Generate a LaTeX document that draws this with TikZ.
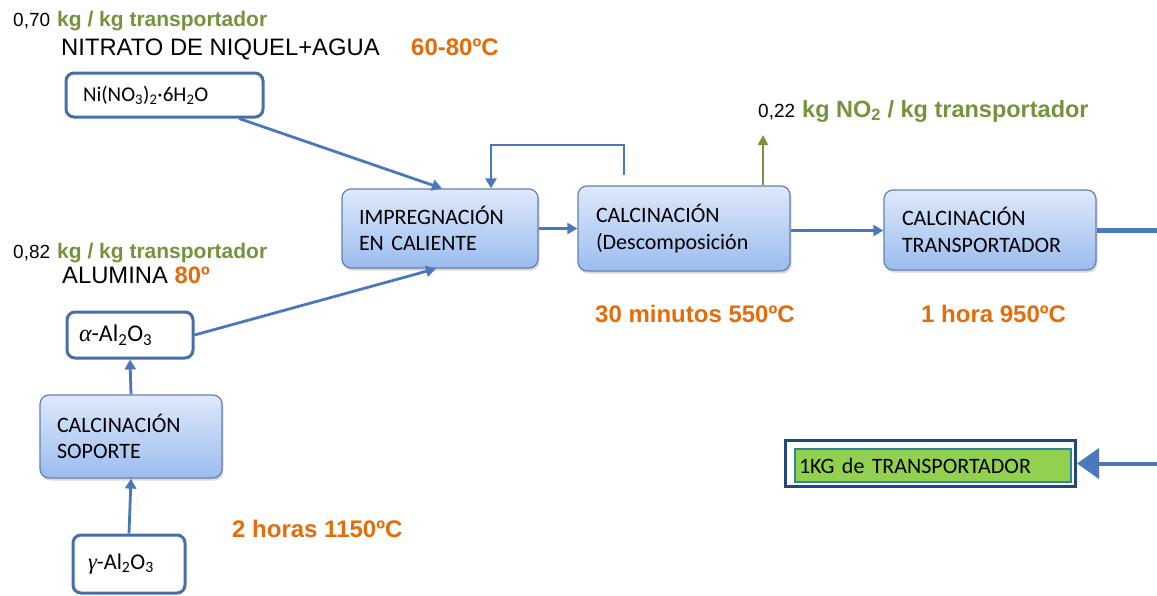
\documentclass[tikz,border=0pt]{standalone}
\usepackage{fontspec}
\setmainfont{Liberation Sans}
\newfontfamily\calfont{Carlito}
\newfontfamily\symfont{Liberation Serif}
\usetikzlibrary{arrows.meta,shadows}
\definecolor{arrowblue}{RGB}{74,120,188}
\definecolor{boxborder}{RGB}{100,128,178}
\definecolor{whiteborder}{RGB}{70,110,170}
\definecolor{lgreen}{RGB}{118,146,60}
\definecolor{orng}{RGB}{228,108,10}
\definecolor{gradtop}{RGB}{222,233,251}
\definecolor{gradbot}{RGB}{155,188,238}
\definecolor{kgfill}{RGB}{146,208,80}
\definecolor{kgouter}{RGB}{31,73,125}
\definecolor{kginner}{RGB}{49,133,155}
\tikzset{
  procbox/.style={draw=boxborder, line width=1.2pt, rounded corners=9pt,
    top color=gradtop, bottom color=gradbot,
    drop shadow={shadow xshift=1.5pt, shadow yshift=-2.5pt, opacity=0.3},
    align=left, inner xsep=17pt, inner ysep=0pt,
    font=\calfont\fontsize{22}{26.5}\selectfont},
  inbox/.style={draw=whiteborder, line width=3pt, rounded corners=8pt,
    fill=white, align=left, inner ysep=0pt,
    font=\calfont\fontsize{21}{24}\selectfont},
  arr/.style={draw=arrowblue, line width=2.8pt, -{Triangle[length=10pt,width=11pt]}},
  garr/.style={draw=lgreen, line width=2.8pt, -{Triangle[length=10pt,width=10pt]}},
  thickline/.style={draw=arrowblue, line width=5pt},
  bigarr/.style={draw=arrowblue, line width=4pt, -{Triangle[length=22pt,width=30pt]}},
  lbl/.style={anchor=base west, inner sep=0pt},
}
\newcommand\grn[2][21]{\textcolor{lgreen}{\bfseries\fontsize{#1}{25}\selectfont #2}}
\newcommand\org[1]{\textcolor{orng}{\bfseries #1}}
\newcommand\num[1]{{\fontsize{19}{22}\selectfont #1}\hspace{7pt}}
\newcommand\galpha{{\symfont\itshape α}}
\newcommand\ggamma{{\symfont\itshape γ}}
\begin{document}
\begin{tikzpicture}[x=1pt,y=-1pt]
\useasboundingbox (0,0) rectangle (1157,595);

% labels
\node[lbl] (l070) at (13,26) {\num{0,70}\grn{kg / kg transportador}};
\node[lbl, font=\fontsize{23.8}{28}\selectfont] (lnit) at (61,55) {NITRATO DE NIQUEL+AGUA};
\node[lbl, font=\fontsize{24}{28}\selectfont] (ltemp1) at (411,55) {\org{60-80ºC}};
\node[lbl] (l082) at (13,258) {\num{0,82}\grn{kg / kg transportador}};
\node[lbl, font=\fontsize{23.8}{28}\selectfont] (lalu) at (62,283) {ALUMINA \org{80º}};
\node[lbl] (l022) at (758,117) {\num{0,22}\grn[23.5]{kg NO\textsubscript{2} / kg transportador}};
\node[lbl, font=\fontsize{24}{28}\selectfont] (lt2) at (595,322) {\org{30 minutos 550ºC}};
\node[lbl, font=\fontsize{24}{28}\selectfont] (lt3) at (921,322) {\org{1 hora 950ºC}};
\node[lbl, font=\fontsize{24}{28}\selectfont] (lt1) at (232,537) {\org{2 horas 1150ºC}};

% white boxes
\node[inbox, minimum width=197pt, minimum height=44pt, text width=163pt, inner xsep=17pt] (ni) at (164.5,95)
  {Ni(NO\textsubscript{3})\textsubscript{2}·6H\textsubscript{2}O};
\node[inbox, minimum width=126pt, minimum height=46pt, text width=102pt, inner xsep=12pt,
  font=\calfont\fontsize{24}{26}\selectfont] (alp) at (130,335)
  {\galpha-Al\textsubscript{2}O\textsubscript{3}};
\node[inbox, minimum width=112pt, minimum height=58pt, text width=82pt, inner xsep=15pt,
  font=\calfont\fontsize{22.5}{26}\selectfont] (gam) at (129,564)
  {\ggamma-Al\textsubscript{2}O\textsubscript{3}};

% process boxes
\node[procbox, minimum width=196pt, minimum height=79pt, text width=162pt] (imp) at (440,228.5)
  {IMPREGNACIÓN\\EN CALIENTE};
\node[procbox, minimum width=212pt, minimum height=85pt, text width=176pt, inner xsep=18pt] (calc) at (684,228.5)
  {CALCINACIÓN\\(Descomposición};
\node[procbox, minimum width=212pt, minimum height=80pt, text width=176pt, inner xsep=18pt] (trans) at (990,230)
  {CALCINACIÓN\\TRANSPORTADOR};
\node[procbox, minimum width=182pt, minimum height=83pt, text width=148pt] (sop) at (131,436.5)
  {CALCINACIÓN\\SOPORTE};

% 1KG box
\node[draw=kgouter, line width=3pt, minimum width=290pt, minimum height=46pt, inner sep=0pt] (kgo) at (930.5,463.5) {};
\node[draw=kginner, line width=2pt, fill=kgfill, minimum width=276pt, minimum height=33pt, text width=268pt,
  inner xsep=4pt, inner ysep=0pt, align=left, font=\calfont\fontsize{22}{24}\selectfont] (kgi) at (933,465.5)
  {1KG de TRANSPORTADOR};

% connectors
\draw[arr] ([xshift=74.5pt]ni.south) -- ([xshift=2pt]imp.north);
\draw[arr] (alp.east) -- ([xshift=-4pt]imp.south);
\draw[arr] (imp.east) -- (calc.west);
\draw[arr] ([yshift=-2pt]calc.east) -- ([yshift=-2pt]calc.east -| trans.west);
\coordinate (fbR) at (624,145);
\coordinate (fbL) at (491,145);
\draw[arr] ([xshift=-60pt,yshift=10pt]calc.north) -- (fbR) -- (fbL) -- (imp.north -| fbL);
\coordinate (no2) at (763,135);
\draw[garr] (calc.north -| no2) -- (no2);
\draw[arr] (gam.north) -- (sop.south);
\draw[arr] (sop.north) -- (alp.south);
\coordinate (edgeT) at (1157,230);
\draw[thickline] (trans.east) -- (edgeT);
\coordinate (edgeB) at (1157,463.5);
\draw[bigarr] (edgeB) -- (kgo.east);
\end{tikzpicture}
\end{document}
